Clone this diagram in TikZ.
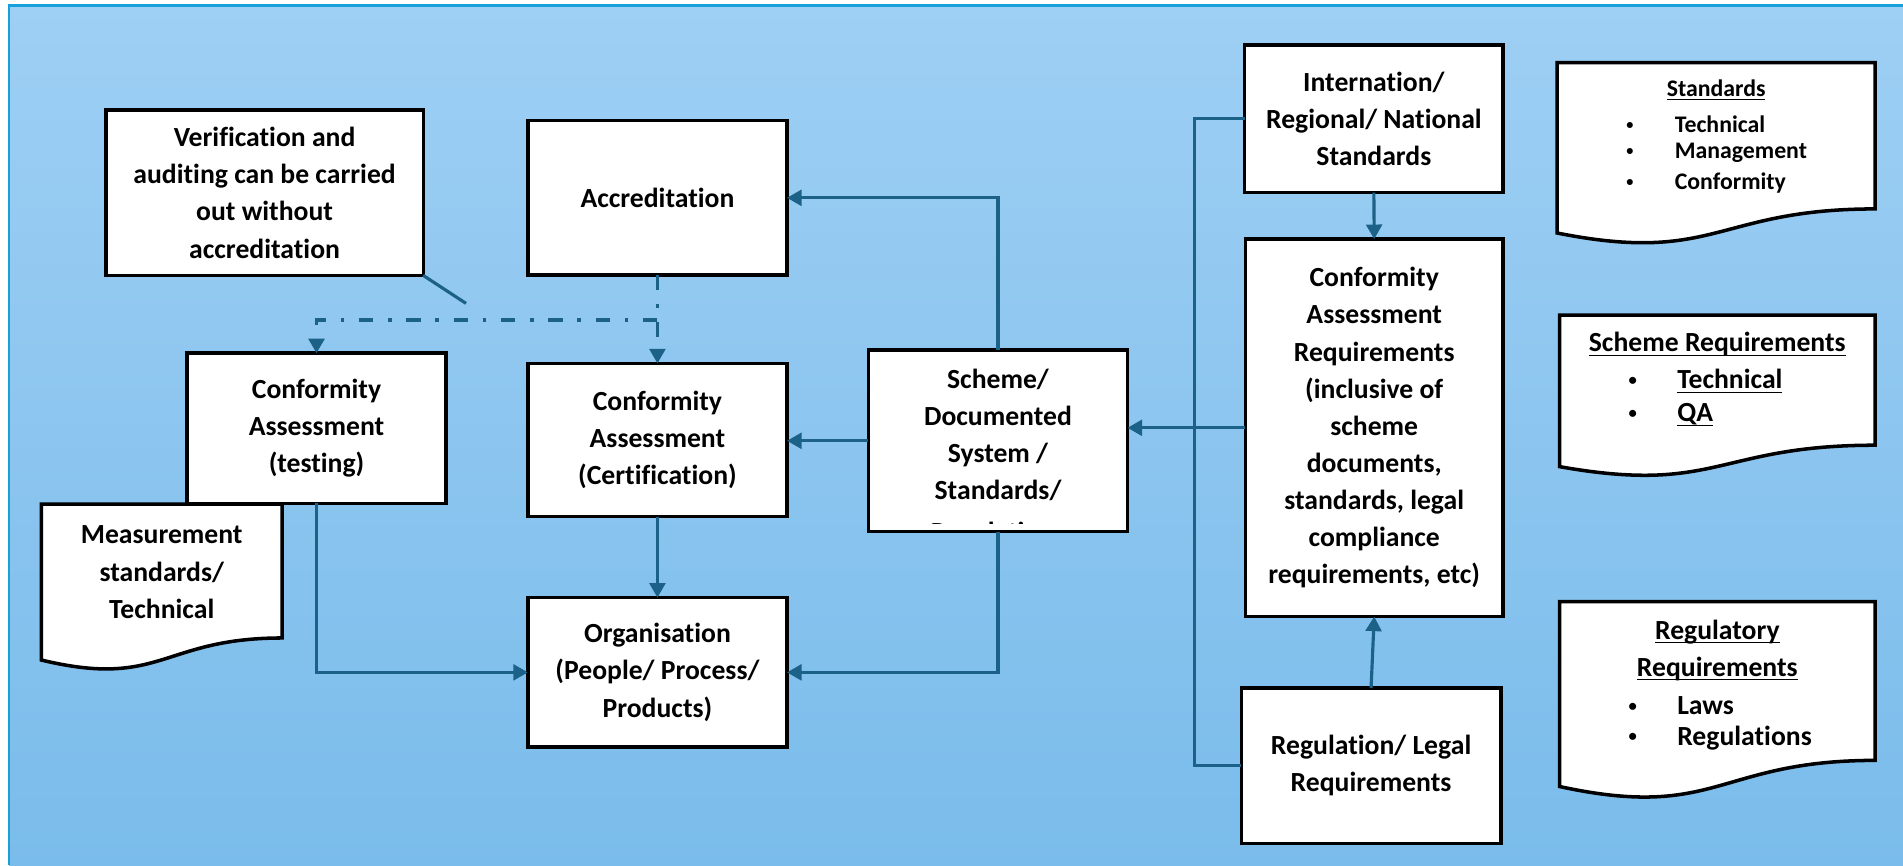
\documentclass[tikz,border=0pt]{standalone}
\usepackage{fontspec}
\setmainfont[Ligatures=NoCommon]{Carlito}
\usetikzlibrary{arrows.meta}
\definecolor{bgtop}{RGB}{158,207,244}
\definecolor{bgbot}{RGB}{122,188,235}
\definecolor{framec}{RGB}{24,160,220}
\definecolor{linec}{RGB}{28,98,136}
\newcommand\mainfnt{\bfseries\fontsize{11.4}{15.3}\selectfont}
\newcommand\smallfnt{\bfseries\fontsize{9.8}{12.25}\selectfont}
\newcommand\bul{\raisebox{0.12em}{\scalebox{0.6}{•}}}
\newcommand\ulx[1]{\underline{\raisebox{0pt}[\height][0pt]{#1}}}
\newcommand\docpath[4]{\filldraw[docshape] (#1,#2) -- ({#1+#3},#2) -- ({#1+#3},{#2+0.802*#4}) .. controls ({#1+0.5*#3},{#2+0.802*#4}) and ({#1+0.5*#3},{#2+1.1075*#4}) .. (#1,{#2+0.934*#4}) -- cycle;}
\tikzset{
  boxnode/.style={draw=black, line width=1.45pt, fill=white, inner sep=0pt, outer sep=0pt, align=center, font=\mainfnt},
  docshape/.style={draw=black, fill=white, line width=1.45pt, line join=miter},
  docarea/.style={inner sep=0pt, outer sep=0pt, align=center, font=\mainfnt},
  txtnode/.style={inner sep=0pt, outer sep=0pt, align=center, font=\mainfnt},
  bulletitem/.style={inner sep=0pt, outer sep=0pt, anchor=west, font=\mainfnt},
  arrowhd/.style={-{Triangle[width=6.5pt,length=6pt]}},
  cline/.style={draw=linec, line width=1.3pt},
  ddline/.style={draw=linec, line width=1.3pt, dash pattern=on 6pt off 6pt on 1.5pt off 6pt},
}
\begin{document}
\begin{tikzpicture}[x=0.5pt,y=-0.5pt]
\path[use as bounding box] (0,0) rectangle (1568,713);
% background frame
\shade[top color=bgtop, bottom color=bgbot] (7.5,4.5) rectangle (1568,713);
\draw[framec, line width=1.1pt] (7.5,713) -- (7.5,4.5) -- (1568,4.5);

% main boxes
\node[boxnode, minimum width=130.75pt, minimum height=68.15pt] (callout) at (218,158.8)
  {Verification and\\auditing can be carried\\out without\\accreditation};
\node[boxnode, minimum width=106.75pt, minimum height=63.6pt] (accr) at (541.7,163) {Accreditation};
\node[boxnode, minimum width=106.8pt, minimum height=61.85pt] (catest) at (260.8,352.9)
  {Conformity\\Assessment\\(testing)};
\node[boxnode, minimum width=106.75pt, minimum height=63.15pt] (cacert) at (541.7,362.6)
  {Conformity\\Assessment\\(Certification)};
\node[boxnode, minimum width=106.75pt, minimum height=61.55pt] (org) at (541.7,554)
  {Organisation\\(People/ Process/\\Products)};
\node[boxnode, minimum width=106.75pt, minimum height=74.8pt] (scheme) at (822.3,363.2) {};
\node[txtnode] (schemetext) at (822.3,358.5) {Scheme/\\Documented\\System /\\Standards/};
\begin{scope}
  \clip (716,289) rectangle (928,431);
  \node[txtnode] (schemecut) at (822.3,440) {Regulations};
\end{scope}
\node[boxnode, minimum width=106.5pt, minimum height=60.9pt] (intl) at (1132,97.9)
  {Internation/\\Regional/ National\\Standards};
\node[boxnode, minimum width=106.25pt, minimum height=155.5pt] (careq) at (1132.3,352.5)
  {Conformity\\Assessment\\Requirements\\(inclusive of\\scheme\\documents,\\standards, legal\\compliance\\requirements, etc)};
\node[boxnode, minimum width=106.85pt, minimum height=64pt] (reg) at (1129.7,631)
  {Regulation/ Legal\\Requirements};

% document shapes
\docpath{34}{415.3}{198.5}{137.6}
\node[docarea] (meas) at (133.25,471.5) {Measurement\\standards/\\Technical};

\docpath{1283}{51.6}{262}{150.3}
\node[txtnode, font=\smallfnt] (stdhead) at (1414,74.7) {\ulx{Standards}};
\node[bulletitem, font=\smallfnt] (std1) at (1340,102) {\makebox[20pt][l]{\bul}Technical};
\node[bulletitem, font=\smallfnt] (std2) at (1340,125.8) {\makebox[20pt][l]{\bul}Management};
\node[bulletitem, font=\smallfnt] (std3) at (1340,150.5) {\makebox[20pt][l]{\bul}Conformity};

\docpath{1285}{259.6}{260}{133.7}
\node[txtnode] (schhead) at (1415,284) {\ulx{Scheme Requirements}};
\node[bulletitem] (sch1) at (1342,314.5) {\makebox[20pt][l]{\bul}\ulx{Technical}};
\node[bulletitem] (sch2) at (1342,342) {\makebox[20pt][l]{\bul}\ulx{QA}};

\docpath{1285}{495.8}{260}{163}
\node[txtnode] (reghead) at (1415,536) {\ulx{Regulatory}\\\ulx{Requirements}};
\node[bulletitem] (reg1) at (1342,581.7) {\makebox[20pt][l]{\bul}Laws};
\node[bulletitem] (reg2) at (1342,608) {\makebox[20pt][l]{\bul}Regulations};

% connectors
\draw[cline, arrowhd] (scheme.north) |- (accr.east);
\draw[cline, arrowhd] (scheme.west) -- (scheme.west -| cacert.east);
\draw[cline, arrowhd] (scheme.south) |- (org.east);
\draw[cline, arrowhd] (cacert.south) -- (org.north);
\draw[cline, arrowhd] (catest.south) |- (org.west);
\draw[cline, arrowhd] (careq.west) -- (careq.west -| scheme.east);
\draw[cline, arrowhd] (intl.south) -- (careq.north);
\draw[cline, arrowhd] (reg.north) -- (careq.south);
\coordinate (brk) at (984,0);
\draw[cline] (intl.west) -- (intl.west -| brk) |- (reg.west);

% dash-dot links
\coordinate (jn) at (541.7,263.7);
\draw[ddline, arrowhd] (accr.south) -- (cacert.north);
\draw[ddline, arrowhd] (jn) -| (catest.north);
\coordinate (ctip) at (384,250);
\draw[cline] (callout.south east) -- (ctip);
\end{tikzpicture}
\end{document}
